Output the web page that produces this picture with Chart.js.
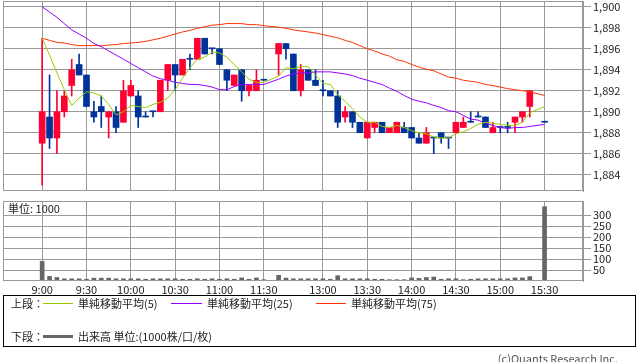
<!DOCTYPE html>
<html lang="ja">
<head>
<meta charset="UTF-8" />
<title>5分足チャート</title>
<script src="https://cdn.jsdelivr.net/npm/chart.js"></script>
<style>
  body { margin: 0; background: #fff; font-family: 'Noto Sans CJK JP', sans-serif; color: #222; }
  #wrap { position: relative; width: 638px; height: 362px; overflow: hidden; background: #fff; }
  canvas { position: absolute; left: 0; }
  #priceChart { top: 0; }
  #volChart { top: 195px; }
  .txt { position: absolute; font-size: 11px; line-height: 13px; white-space: nowrap; }
  #legendBox { position: absolute; left: 3px; top: 295px; width: 631px; height: 50px; border: 1px solid #000; }
  .swatch { position: absolute; height: 1px; }
  #credit { color: #555; right: 20px; top: 352px; }
</style>
</head>
<body>
<div id="wrap">
  <canvas id="priceChart" width="638" height="192"></canvas>
  <canvas id="volChart" width="638" height="102"></canvas>
  <div class="txt" style="left:8px; top:202px;">単位: 1000</div>

  <div id="legendBox"></div>
  <div class="txt" style="left:11px; top:297px;">上段：</div>
  <div class="swatch" style="left:43px; width:30px; top:303px; background:#99cc00;"></div>
  <div class="txt" style="left:78px; top:297px;">単純移動平均(5)</div>
  <div class="swatch" style="left:171px; width:31px; top:303px; background:#9900ff;"></div>
  <div class="txt" style="left:207px; top:297px;">単純移動平均(25)</div>
  <div class="swatch" style="left:316px; width:30px; top:303px; background:#ff3300;"></div>
  <div class="txt" style="left:351px; top:297px;">単純移動平均(75)</div>
  <div class="txt" style="left:11px; top:330px;">下段：</div>
  <div class="swatch" style="left:43px; width:30px; top:335px; height:3px; background:#666;"></div>
  <div class="txt" style="left:78px; top:330px;">出来高 単位:(1000株/口/枚)</div>
  <div class="txt" id="credit">(c)Quants Research Inc.</div>
</div>

<script>
  // 5分足のスロット位置 (0 = 9:00, 68 = 15:30)
  const slots = [0,1,2,3,4,5,6,7,8,9,10,11,12,13,14,15,16,17,18,19,20,21,22,23,24,25,26,27,28,29,30,
                 32,33,34,35,36,37,38,39,40,41,42,43,44,45,46,47,48,49,50,51,52,53,54,55,56,57,58,59,60,61,62,63,64,65,66,
                 68];

  const opens = [1887,1889.5,1887.5,1890,1892.5,1894.5,1893.5,1890,1890.5,1889.5,1890,1889,1891.5,1891.5,1889.5,1890,1890,1893,1894.5,1893.5,1895,1895,1897,1896,1896,1894,1892.5,1894,1892,1892,1893,
                 1895.5,1896.5,1895.5,1892,1894,1893,1892,1892,1891.5,1889.5,1890,1889,1887.5,1888.5,1889,1888,1888,1888.5,1888.5,1887.5,1887,1887.5,1888,1887.5,1888,1888.5,1889,1889.5,1889.5,1888,1888.5,1888.5,1889,1889.5,1890.5,
                 1889];
  const highs = [1897,1893.5,1892,1892,1895,1895.5,1893.5,1891,1891.5,1890,1890.5,1893,1893,1892,1890,1890,1893,1894.5,1894.5,1895,1895.5,1897,1897,1896,1896,1894,1893.5,1894,1892.5,1894,1893,
                 1896.5,1896.5,1895.5,1894.5,1894,1894,1893,1892,1892,1890.5,1890,1889,1889,1889,1889,1888.5,1889,1889,1888.5,1888,1888.5,1887.5,1888,1887.5,1889,1889.5,1890,1890,1889.5,1889,1888.5,1889,1889.5,1890,1892,
                 1889];
  const lows = [1883,1886.5,1886,1889.5,1891.5,1893.5,1890.5,1889,1888.5,1887.5,1888,1889,1891.5,1888.5,1889.5,1889.5,1890,1892,1892,1893.5,1894,1895,1895.5,1895.5,1894.5,1892,1892.5,1891,1891.5,1892,1893,
                1893.5,1895,1892,1891.5,1893,1892.5,1891.5,1891.5,1888.5,1889,1888.5,1888,1887.5,1888,1888,1888,1888,1888,1887.5,1887,1887,1886,1887,1886.5,1888,1888.5,1889,1889.5,1888.5,1888,1888,1888,1888,1889,1889.5,
                1889];
  const closes = [1890,1887.5,1890,1891.5,1894,1893.5,1890.5,1889.5,1890,1890,1888.5,1892,1892.5,1889.5,1889.5,1890,1893,1894.5,1893.5,1895,1895,1897,1895.5,1896,1894.5,1893,1893.5,1892,1892.5,1893,1893,
                  1896.5,1896,1892,1894,1893,1892.5,1892,1891.5,1889,1890,1889,1888,1889,1889,1888,1888.5,1889,1888,1887.5,1887,1888,1887.5,1887.5,1887.5,1889,1889,1889,1889.5,1888.5,1888.5,1888.5,1888.5,1889.5,1890,1892,
                  1889];
  const volumes = [89,21,16,10,10,10,8,13,13,13,10,10,10,10,8,10,10,10,10,8,8,10,8,10,8,10,8,14,8,14,6,
                   26,13,10,10,10,10,10,8,24,10,10,10,10,8,8,6,6,6,14,12,16,18,8,10,10,6,8,10,10,10,10,10,14,14,20,
                   338];

  const ma5 = [1897.0,1895.4,1893.7,1892.1,1890.6,1891.3,1891.9,1891.8,1891.5,1890.7,1889.7,1890.0,1890.6,1890.5,1890.4,1890.7,1890.9,1891.3,1892.1,1893.2,1894.2,1895.0,1895.2,1895.7,1895.6,1895.2,1894.5,1893.8,1893.1,1892.8,1892.8,
               1893.4,1894.2,1894.1,1894.3,1894.3,1893.5,1892.7,1892.6,1891.6,1891.0,1890.3,1889.5,1889.0,1889.0,1888.6,1888.5,1888.7,1888.5,1888.2,1888.0,1887.9,1887.6,1887.5,1887.5,1887.9,1888.1,1888.4,1888.8,1889.0,1888.9,1888.8,1888.7,1888.7,1889.0,1889.9,
               1890.5];
  const ma25 = [1900.0,1899.5,1899.0,1898.4,1897.8,1897.4,1897.0,1896.5,1896.2,1895.8,1895.4,1895.0,1894.6,1894.2,1893.8,1893.4,1893.15,1893.0,1892.8,1892.7,1892.6,1892.6,1892.5,1892.35,1892.1,1892.1,1892.4,1892.6,1892.6,1892.6,1892.6,
                1893.1,1893.4,1893.6,1893.7,1893.7,1893.8,1893.8,1893.8,1893.7,1893.6,1893.45,1893.2,1893.0,1892.8,1892.6,1892.25,1891.95,1891.55,1891.2,1891.0,1890.85,1890.6,1890.4,1890.1,1890.0,1889.65,1889.3,1889.2,1888.9,1888.7,1888.5,1888.4,1888.5,1888.5,1888.6,
                1888.8];
  const ma75 = [1897.0,1896.8,1896.6,1896.55,1896.4,1896.3,1896.3,1896.3,1896.3,1896.35,1896.4,1896.5,1896.55,1896.6,1896.7,1896.85,1897.0,1897.2,1897.4,1897.6,1897.75,1897.95,1898.1,1898.25,1898.3,1898.4,1898.4,1898.4,1898.3,1898.3,1898.2,
                1898.05,1897.95,1897.8,1897.7,1897.6,1897.5,1897.35,1897.2,1897.05,1896.8,1896.6,1896.3,1896.0,1895.8,1895.5,1895.3,1894.95,1894.8,1894.5,1894.25,1894.05,1893.9,1893.6,1893.3,1893.2,1893.0,1892.9,1892.8,1892.6,1892.5,1892.35,1892.2,1892.1,1892.0,1891.9,
                1891.55];

  const tickSlots = [0,6,12,18,24,30,38,44,50,56,62,68];
  const tickLabels = ['9:00','9:30','10:00','10:30','11:00','11:30','13:00','13:30','14:00','14:30','15:00','15:30'];
  const priceTicks = [1884,1886,1888,1890,1892,1894,1896,1898,1900];
  const volTicks = [50,100,150,200,250,300];

  const FONT = { family: "'Noto Sans CJK JP', sans-serif", size: 11, lineHeight: 1 };
  const GRID = '#999';
  const candleColors = closes.map((c, i) => c > opens[i] ? '#ff0033' : '#003399');

  // plot frame around the chart area
  const frame = {
    id: 'frame',
    afterDraw(chart) {
      const { ctx, chartArea: a } = chart;
      ctx.save();
      ctx.strokeStyle = GRID;
      ctx.lineWidth = 1;
      ctx.strokeRect(Math.round(a.left) + 0.5, Math.round(a.top) + 0.5,
                     Math.round(a.right - a.left) - 1, Math.round(a.bottom - a.top) - 1);
      ctx.restore();
    }
  };

  function timeAxis(showLabels) {
    return {
      type: 'linear',
      min: -5.3,
      max: 73.2,
      offset: false,
      afterBuildTicks: s => { s.ticks = tickSlots.map(v => ({ value: v })); },
      afterFit: s => {
        s.height = showLabels ? 16 : 0;
        s.paddingLeft = 0;
        s.paddingRight = 0;
      },
      grid: { color: GRID, drawTicks: false, offset: false },
      border: { display: false },
      ticks: {
        display: showLabels,
        autoSkip: false,
        maxRotation: 0,
        padding: 3,
        color: '#222',
        font: FONT,
        callback: (v, i) => tickLabels[i]
      }
    };
  }

  function valueAxis(min, max, ticks, fmt) {
    return {
      position: 'right',
      min: min,
      max: max,
      beginAtZero: false,
      afterBuildTicks: s => { s.ticks = ticks.map(v => ({ value: v })); },
      afterFit: s => {
        s.width = 55;
        s.paddingTop = 0;
        s.paddingBottom = 0;
      },
      grid: { color: GRID, tickLength: 8 },
      border: { color: GRID },
      ticks: { autoSkip: false, padding: 2, color: '#222', font: FONT, callback: fmt }
    };
  }

  function lineSet(values, color) {
    return {
      type: 'line',
      data: slots.map((x, i) => ({ x: x, y: values[i] })),
      borderColor: color,
      borderWidth: 1,
      pointRadius: 0,
      tension: 0,
      order: 0
    };
  }

  new Chart(document.getElementById('priceChart'), {
    type: 'bar',
    data: {
      datasets: [
        lineSet(ma5, '#99cc00'),
        lineSet(ma25, '#9900ff'),
        lineSet(ma75, '#ff3300'),
        {
          data: slots.map((x, i) => ({ x: x, y: [opens[i], closes[i]] })),
          backgroundColor: candleColors,
          barThickness: 6,
          minBarLength: 1,
          grouped: false,
          order: 2
        },
        {
          data: slots.map((x, i) => ({ x: x, y: [lows[i], highs[i]] })),
          backgroundColor: candleColors,
          barThickness: 1,
          minBarLength: 1,
          grouped: false,
          order: 3
        }
      ]
    },
    options: {
      responsive: false,
      animation: false,
      devicePixelRatio: 1,
      layout: { padding: { left: 3, top: 1, right: 0, bottom: 1 } },
      plugins: { legend: { display: false }, tooltip: { enabled: false } },
      scales: {
        x: timeAxis(false),
        y: valueAxis(1882.45, 1900.55, priceTicks, v => v.toLocaleString('en-US'))
      }
    },
    plugins: [frame]
  });

  new Chart(document.getElementById('volChart'), {
    type: 'bar',
    data: {
      datasets: [{
        data: slots.map((x, i) => ({ x: x, y: volumes[i] })),
        backgroundColor: '#666',
        barThickness: 4,
        grouped: false
      }]
    },
    options: {
      responsive: false,
      animation: false,
      devicePixelRatio: 1,
      layout: { padding: { left: 3, top: 6, right: 0, bottom: 0 } },
      plugins: { legend: { display: false }, tooltip: { enabled: false } },
      scales: {
        x: timeAxis(true),
        y: valueAxis(0, 364, volTicks, v => String(v))
      }
    },
    plugins: [frame]
  });
</script>
</body>
</html>
